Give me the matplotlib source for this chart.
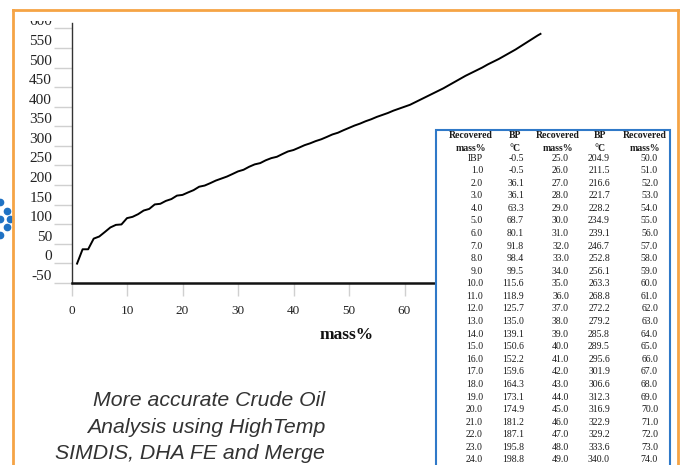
import matplotlib
matplotlib.use("Agg")
import matplotlib.pyplot as plt
from matplotlib.transforms import ScaledTranslation
from matplotlib.patches import Rectangle
from matplotlib.lines import Line2D

plt.rcParams["axes.unicode_minus"] = False

# ---------------- data ----------------
col1_mass = ["IBP", "1.0", "2.0", "3.0", "4.0", "5.0", "6.0", "7.0", "8.0", "9.0",
             "10.0", "11.0", "12.0", "13.0", "14.0", "15.0", "16.0", "17.0", "18.0",
             "19.0", "20.0", "21.0", "22.0", "23.0", "24.0"]
col2_bp = [-0.5, -0.5, 36.1, 36.1, 63.3, 68.7, 80.1, 91.8, 98.4, 99.5, 115.6, 118.9,
           125.7, 135.0, 139.1, 150.6, 152.2, 159.6, 164.3, 173.1, 174.9, 181.2,
           187.1, 195.8, 198.8]
col3_mass = [25.0, 26.0, 27.0, 28.0, 29.0, 30.0, 31.0, 32.0, 33.0, 34.0, 35.0, 36.0,
             37.0, 38.0, 39.0, 40.0, 41.0, 42.0, 43.0, 44.0, 45.0, 46.0, 47.0, 48.0, 49.0]
col4_bp = [204.9, 211.5, 216.6, 221.7, 228.2, 234.9, 239.1, 246.7, 252.8, 256.1,
           263.3, 268.8, 272.2, 279.2, 285.8, 289.5, 295.6, 301.9, 306.6, 312.3,
           316.9, 322.9, 329.2, 333.6, 340.0]
col5_mass = [50.0, 51.0, 52.0, 53.0, 54.0, 55.0, 56.0, 57.0, 58.0, 59.0, 60.0, 61.0,
             62.0, 63.0, 64.0, 65.0, 66.0, 67.0, 68.0, 69.0, 70.0, 71.0, 72.0, 73.0, 74.0]

# upper part of the curve (beyond the visible table)
upper_mass = [50, 51, 52, 53, 54, 55, 56, 57, 58, 59, 60, 61, 62, 63, 64, 65, 66, 67,
              68, 69, 70, 71, 72, 73, 74, 75, 76, 77, 78, 79, 80, 81, 82, 83, 84, 84.5]
upper_bp = [346, 352, 357, 363, 368, 374, 379, 384, 390, 395, 400, 405, 412, 419, 426,
            433, 440, 447, 455, 463, 471, 479, 486, 493, 500, 508, 515, 522, 530, 538,
            546, 555, 564, 573, 582, 586]

x_ticks = [0, 10, 20, 30, 40, 50, 60]
y_ticks = [-50, 0, 50, 100, 150, 200, 250, 300, 350, 400, 450, 500, 550, 600]

headers1 = ["Recovered", "BP", "Recovered", "BP", "Recovered"]
headers2 = ["mass%", "°C", "mass%", "°C", "mass%"]

curve_mass = [float(v) for v in col1_mass[1:]] + col3_mass + upper_mass
curve_bp = col2_bp[1:] + col4_bp + upper_bp

# ---------------- figure ----------------
W, H = 680, 465
fig = plt.figure(figsize=(6.8, 4.65), dpi=100)
fig.patch.set_facecolor("white")


def fx(x):
    return x / W


def fy(y):
    return 1 - y / H


serif = ["Liberation Serif", "DejaVu Serif"]

ax = fig.add_axes([fx(71.5), fy(283), (660 - 71.5) / W, (283 - 23) / H])
ax.plot(curve_mass, curve_bp, color="black", lw=1.4, solid_joinstyle="round")
ax.set_xlim(0, (660 - 71.5) / 5.55)
ax.set_ylim(-50, -50 + 260 / 0.3917)
ax.set_xticks(x_ticks)
ax.set_yticks(y_ticks)
for s in ["top", "right"]:
    ax.spines[s].set_visible(False)
ax.spines["bottom"].set_linewidth(1.8)
ax.spines["bottom"].set_color("#111111")
ax.spines["left"].set_linewidth(1.0)
ax.spines["left"].set_color("#333333")
ax.tick_params(axis="y", length=13, color="#d0d0d0", width=1, pad=1,
               labelsize=11, labelcolor="#222222")
ax.tick_params(axis="x", length=9.5, color="#d0d0d0", width=1, pad=6,
               labelsize=9.5, labelcolor="#222222")
for lab in ax.get_xticklabels() + ax.get_yticklabels():
    lab.set_fontfamily(serif)

offset = ScaledTranslation(0, 8 / 100, fig.dpi_scale_trans)
for t in ax.yaxis.get_major_ticks():
    t.label1.set_transform(t.label1.get_transform() + offset)

ax.set_xlabel("mass%", fontfamily=serif, fontweight="bold", fontsize=12.5,
              color="#111111")
ax.xaxis.set_label_coords(fx(347), fy(327), transform=fig.transFigure)

# white band hiding the upper part of the top tick label (as in the slide)
fig.add_artist(Rectangle((fx(16), fy(21.5)), fx(66) - fx(16), fy(11) - fy(21.5),
                         facecolor="white", edgecolor="none",
                         transform=fig.transFigure, zorder=4))

# ---------------- slide decoration ----------------
orange = "#f5a445"
fig.add_artist(Line2D([fx(13), fx(679)], [fy(10), fy(10)], color=orange, lw=2,
                      transform=fig.transFigure, zorder=5))
fig.add_artist(Line2D([fx(13), fx(13)], [fy(10), fy(466)], color=orange, lw=2,
                      transform=fig.transFigure, zorder=5))
fig.add_artist(Line2D([fx(678), fx(678)], [fy(10), fy(466)], color=orange, lw=2,
                      transform=fig.transFigure, zorder=5))

dots_x = [0, 7, 0, 10, 7, 0]
dots_y = [202, 211, 219, 219, 227, 235]
fig.add_artist(Line2D([fx(v) for v in dots_x], [fy(v) for v in dots_y], ls="none",
                      marker="o", markersize=4.5, color="#1f72c4",
                      transform=fig.transFigure))

# ---------------- table ----------------
blue = "#2f79c8"
fig.add_artist(Rectangle((fx(436), fy(470)), fx(670) - fx(436), fy(130) - fy(470),
                         facecolor="white", edgecolor=blue, lw=1.5,
                         transform=fig.transFigure, zorder=5))

head_x = [471, 515, 558, 600, 645]
for hx, h1, h2 in zip(head_x, headers1, headers2):
    fig.text(fx(hx), fy(136), h1, ha="center", va="center", fontsize=7,
             fontweight="bold", fontfamily=serif, color="#1a1a1a", zorder=6)
    fig.text(fx(hx), fy(148), h2, ha="center", va="center", fontsize=7,
             fontweight="bold", fontfamily=serif, color="#1a1a1a", zorder=6)

col_right = [483, 524, 569, 610, 658]
for i in range(len(col1_mass)):
    yy = fy(158 + 12.58 * i)
    vals = [col1_mass[i], f"{col2_bp[i]:.1f}", f"{col3_mass[i]:.1f}",
            f"{col4_bp[i]:.1f}", f"{col5_mass[i]:.1f}"]
    for cx, v in zip(col_right, vals):
        fig.text(fx(cx), yy, v, ha="right", va="center", fontsize=7,
                 fontfamily=serif, color="#1a1a1a", zorder=6)

# ---------------- caption ----------------
caption = ["More accurate Crude Oil", "Analysis using HighTemp",
           "SIMDIS, DHA FE and Merge"]
for k, line in enumerate(caption):
    fig.text(fx(325), fy(401 + 26.3 * k), line, ha="right", va="center",
             fontsize=15.3, style="italic", fontfamily=["Liberation Sans", "DejaVu Sans"],
             color="#333333")

fig.savefig("out.png", dpi=100)
